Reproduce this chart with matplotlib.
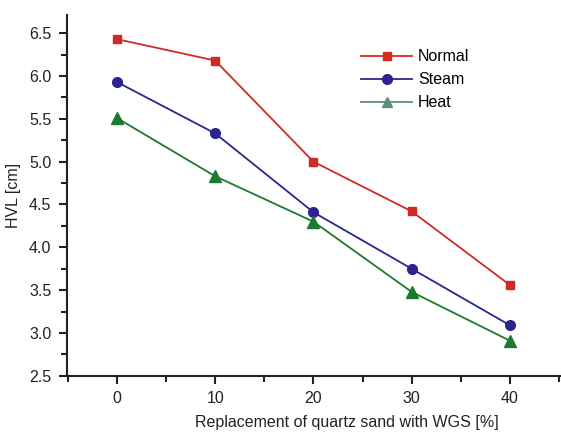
import matplotlib
matplotlib.use('Agg')
import matplotlib.pyplot as plt
from matplotlib.lines import Line2D
from matplotlib.ticker import MultipleLocator

plt.rcParams['font.family'] = ['Liberation Sans', 'DejaVu Sans']

replacement = [0, 10, 20, 30, 40]
normal = [6.43, 6.18, 5.00, 4.42, 3.56]
steam = [5.93, 5.33, 4.41, 3.75, 3.09]
heat = [5.51, 4.83, 4.30, 3.48, 2.91]

fig = plt.figure(figsize=(5.61, 4.33), dpi=100)
ax = fig.add_axes([0.119, 0.132, 0.881, 0.833])

ax.plot(replacement, normal, color='#d02a25', marker='s', markersize=6, lw=1.3)
ax.plot(replacement, steam, color='#2e2490', marker='o', markersize=7, lw=1.3)
ax.plot(replacement, heat, color='#1b7a2e', marker='^', markersize=8, lw=1.3)

ax.set_xlim(-5.1, 45.2)
ax.set_ylim(2.5, 6.71)
ax.xaxis.set_major_locator(MultipleLocator(10))
ax.xaxis.set_minor_locator(MultipleLocator(5))
ax.yaxis.set_major_locator(MultipleLocator(0.5))
ax.yaxis.set_minor_locator(MultipleLocator(0.25))
ax.yaxis.set_major_formatter(plt.FormatStrFormatter('%.1f'))

for side in ['top', 'right']:
    ax.spines[side].set_visible(False)
for side in ['left', 'bottom']:
    ax.spines[side].set_linewidth(1.5)
    ax.spines[side].set_color('#222222')

ax.tick_params(which='major', direction='out', length=6, width=1.5, labelsize=11.5, colors='#222222', pad=5)
ax.tick_params(which='minor', direction='out', length=4, width=1.5, colors='#222222')

ax.set_xlabel('Replacement of quartz sand with WGS [%]', fontsize=11.5, color='#222222')
ax.xaxis.set_label_coords(0.567, -0.108)
ax.set_ylabel('HVL [cm]', fontsize=11.5, color='#222222', labelpad=6)

handles = [
    Line2D([], [], color='#d62a20', marker='s', markersize=6, lw=1.3, label='Normal'),
    Line2D([], [], color='#2e2490', marker='o', markersize=7, lw=1.3, label='Steam'),
    Line2D([], [], color='#5f8c80', marker='^', markersize=7, lw=1.3, label='Heat'),
]
ax.legend(handles=handles, loc='upper left', bbox_to_anchor=(0.567, 0.945), frameon=False,
          fontsize=11.5, handlelength=3.2, handletextpad=0.35, labelspacing=0.5)

fig.savefig('out.png', dpi=100)
